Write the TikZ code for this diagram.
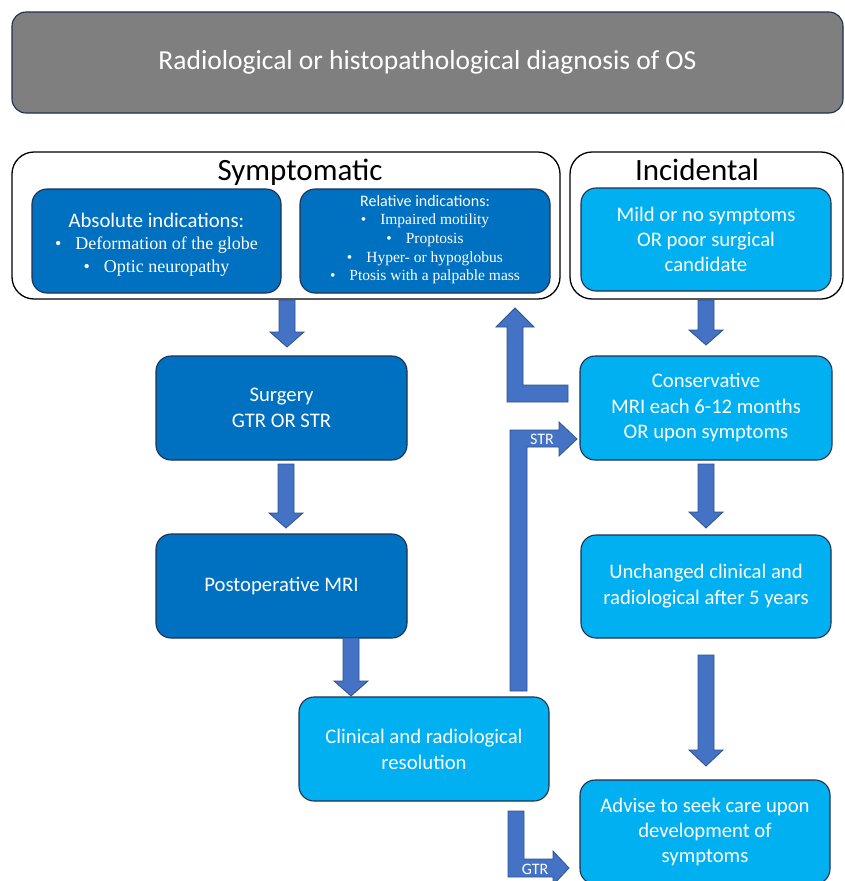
\documentclass[tikz,border=0pt]{standalone}
\usepackage{fontspec}
\setmainfont{Carlito}
\newfontfamily\tnr{Liberation Serif}
\definecolor{hdrgray}{HTML}{7F7F7F}
\definecolor{darkblue}{HTML}{0070C0}
\definecolor{lightblue}{HTML}{00B0F0}
\definecolor{arrowblue}{HTML}{4472C4}
\definecolor{arrowedge}{HTML}{2F528F}
\definecolor{boxedge}{HTML}{1F3050}
\newcommand\dnarrow[4]{\draw[barrow] (#1-8,#2) -- (#1+8,#2) -- (#1+8,#3) -- (#1+17,#3) -- (#1,#4) -- (#1-17,#3) -- (#1-8,#3) -- cycle;}
\newcommand\bul{\textbullet\hspace{14pt}}
\begin{document}
\begin{tikzpicture}[x=1pt,y=-1pt,
  box/.style={draw=boxedge,line width=1.1pt,rounded corners=15pt,text=white,align=center,inner sep=0pt},
  dbox/.style={box,fill=darkblue},
  lbox/.style={box,fill=lightblue},
  boxtext/.style={font=\fontsize{20.7}{25.5}\selectfont},
  outer/.style={draw=black,line width=1.3pt,rounded corners=22pt,fill=white},
  barrow/.style={fill=arrowblue,draw=arrowedge,line width=0.8pt,line join=miter},
  wline/.style={text=white,inner sep=0pt,anchor=base},
  lbl/.style={text=white,font=\fontsize{16}{18}\selectfont,inner sep=0pt}]
\useasboundingbox (0,0) rectangle (844,881);
% header
\node[box,fill=hdrgray,minimum width=831pt,minimum height=101pt,rounded corners=14pt,font=\fontsize{27.5}{30}\selectfont] (hdr) at (427.5,62.5) {Radiological or histopathological diagnosis of OS};
% outer groups
\node[outer,minimum width=548pt,minimum height=147pt] (symp) at (286,225.5) {};
\node[outer,minimum width=273pt,minimum height=147pt] (inci) at (706.5,225.5) {};
\node[font=\fontsize{31}{34}\selectfont,inner sep=0pt] (sympt) at (300,172) {Symptomatic};
\node[font=\fontsize{31}{34}\selectfont,inner sep=0pt] (incit) at (697,170) {Incidental};
% absolute indications
\node[dbox,minimum width=249pt,minimum height=104pt] (abs) at (156.5,241) {};
\node[wline,font=\fontsize{20.7}{24}\selectfont] (abs1) at (156.5,227) {Absolute indications:};
\node[wline,font=\tnr\fontsize{18}{22}\selectfont] (abs2) at (156.5,249) {\bul Deformation of the globe};
\node[wline,font=\tnr\fontsize{18}{22}\selectfont] (abs3) at (156.5,272) {\bul Optic neuropathy};
% relative indications
\node[dbox,minimum width=250pt,minimum height=104pt] (rel) at (425,241) {};
\node[wline,font=\fontsize{16}{19}\selectfont] (rel1) at (425,206) {Relative indications:};
\node[wline,font=\tnr\fontsize{15.5}{19}\selectfont] (rel2) at (425,224) {\bul Impaired motility};
\node[wline,font=\tnr\fontsize{15.5}{19}\selectfont] (rel3) at (425,243.5) {\bul Proptosis};
\node[wline,font=\tnr\fontsize{15.5}{19}\selectfont] (rel4) at (425,262.5) {\bul Hyper- or hypoglobus};
\node[wline,font=\tnr\fontsize{15.5}{19}\selectfont] (rel5) at (425,280) {\bul Ptosis with a palpable mass};
% incidental
\node[lbox,boxtext,minimum width=250pt,minimum height=103pt,font=\fontsize{20.7}{25}\selectfont] (mild) at (706,239.5) {Mild or no symptoms\\OR poor surgical\\candidate};
% flow boxes
\node[dbox,boxtext,minimum width=251pt,minimum height=104pt,font=\fontsize{20.7}{26}\selectfont] (surg) at (281.5,408) {Surgery\\GTR OR STR};
\node[dbox,boxtext,minimum width=251pt,minimum height=104pt] (pmri) at (281.5,586) {Postoperative MRI};
\node[lbox,boxtext,minimum width=250pt,minimum height=104pt,font=\fontsize{20.7}{26}\selectfont] (clin) at (424,749) {Clinical and radiological\\resolution};
\node[lbox,boxtext,minimum width=252pt,minimum height=104pt] (cons) at (706,408) {Conservative\\MRI each 6-12 months\\OR upon symptoms};
\node[lbox,boxtext,minimum width=250pt,minimum height=103pt,font=\fontsize{20.7}{26}\selectfont] (unch) at (706,586.5) {Unchanged clinical and\\radiological after 5 years};
\node[lbox,boxtext,minimum width=250pt,minimum height=104pt,font=\fontsize{20.7}{25}\selectfont] (adv) at (705,832) {Advise to seek care upon\\development of\\symptoms};
% block arrows
\dnarrow{287}{300}{332}{347}
\dnarrow{286}{464}{513}{528}
\dnarrow{351}{638}{681}{696}
\dnarrow{706}{300}{330}{345}
\dnarrow{706}{464}{512}{528}
\dnarrow{706}{655}{750}{766}
% L arrow back up to relative indications
\draw[barrow] (568,385) -- (523,385) -- (523,327) -- (534,327) -- (515,308) -- (496,327) -- (507,327) -- (507,402) -- (568,402) -- cycle;
% STR arrow
\draw[barrow] (510,691) -- (510,430) -- (559,430) -- (559,422) -- (577,439) -- (559,456) -- (559,447) -- (527,447) -- (527,691) -- cycle;
\node[lbl] (strl) at (542,439) {STR};
% GTR arrow
\draw[barrow] (508,811) -- (524,811) -- (524,859) -- (553,859) -- (553,851) -- (569,868) -- (553,885) -- (553,877) -- (508,877) -- cycle;
\node[lbl] (gtrl) at (535,869) {GTR};
\end{tikzpicture}
\end{document}
